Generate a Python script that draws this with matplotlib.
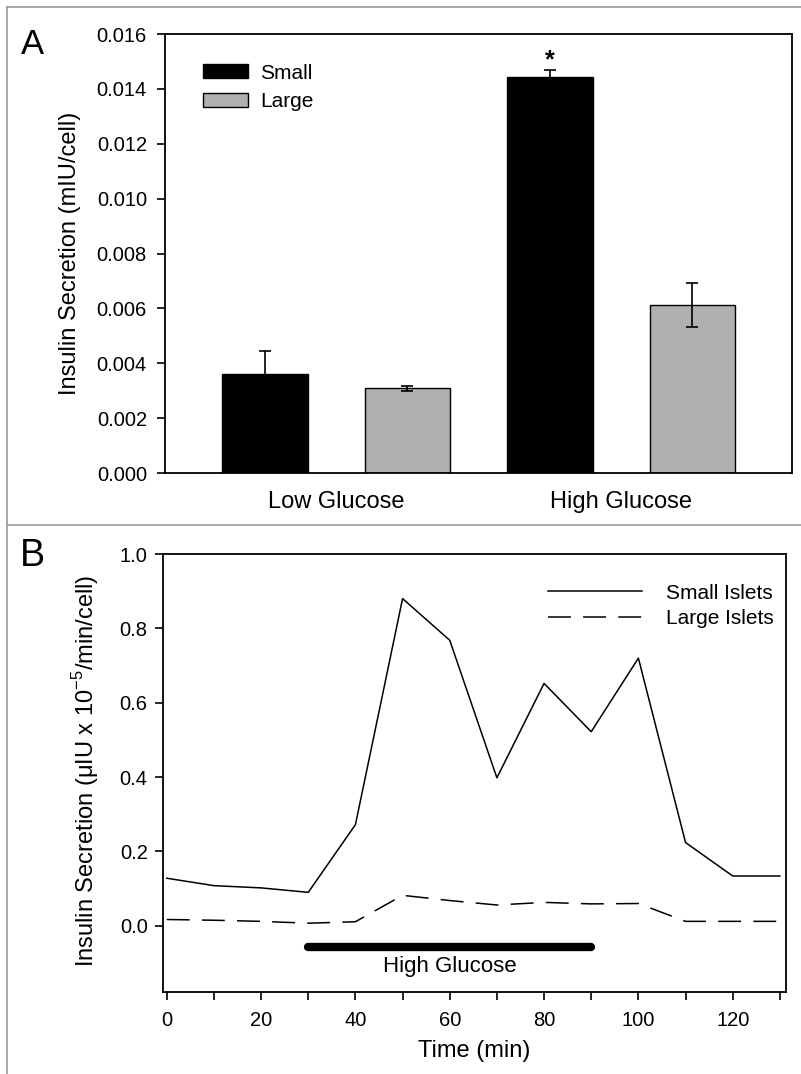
import numpy as np
import matplotlib.pyplot as plt
from matplotlib.lines import Line2D
from matplotlib.patches import Patch

# ---------------- data ----------------
groups = ["Low Glucose", "High Glucose"]
small_mean = [0.00362, 0.01443]
small_err = [0.00082, 0.00026]
large_mean = [0.00308, 0.00612]
large_err = [0.00010, 0.00079]

time_min = [0, 10, 20, 30, 40, 50, 60, 70, 80, 90, 100, 110, 120, 130]
small_islets = [0.128, 0.108, 0.102, 0.090, 0.272, 0.880, 0.768, 0.398,
                0.652, 0.522, 0.720, 0.224, 0.134, 0.134]
large_islets = [0.017, 0.015, 0.012, 0.007, 0.011, 0.082, 0.068, 0.056,
                0.063, 0.059, 0.060, 0.012, 0.012, 0.012]
glucose_window = [30, 90]

plt.rcParams.update({"font.family": "Liberation Sans", "font.size": 14.5})
LABEL_FS = 17

fig = plt.figure(figsize=(8.01, 10.74), dpi=100)

# panel frames (grey lines)
fig.add_artist(Line2D([7 / 801, 7 / 801], [0, 1 - 7 / 1074], color="0.6", lw=1.2))
fig.add_artist(Line2D([7 / 801, 1], [1 - 7 / 1074, 1 - 7 / 1074], color="0.6", lw=1.2))
fig.add_artist(Line2D([7 / 801, 1], [1 - 525 / 1074, 1 - 525 / 1074], color="0.6", lw=1.2))

# ---------------- panel A ----------------
axA = fig.add_axes([165 / 801, 1 - 473 / 1074, 627 / 801, 439 / 1074])
x = np.arange(len(groups))
w = 0.3
ekw = dict(ecolor="black", elinewidth=1.2, capthick=1.2)
axA.bar(x - 0.25, small_mean, w, color="black", edgecolor="black", lw=1,
        yerr=small_err, capsize=4.3, error_kw=ekw)
axA.bar(x + 0.25, large_mean, w, color="#b0b0b0", edgecolor="black", lw=1,
        yerr=large_err, capsize=4.3, error_kw=ekw)
axA.text(1 - 0.25, 0.01505, "*", ha="center", va="center", fontsize=18, fontweight="bold")

axA.set_xlim(-0.6, 1.6)
axA.set_ylim(0, 0.016)
yt = np.arange(0, 0.0161, 0.002)
axA.set_yticks(yt)
axA.set_yticklabels([f"{v:.3f}" for v in yt])
axA.set_xticks(x)
axA.set_xticklabels(groups, fontsize=LABEL_FS)
axA.tick_params(axis="x", length=0, pad=13)
axA.tick_params(axis="y", direction="out", length=6, width=1.2, pad=7)
for s in axA.spines.values():
    s.set_linewidth(1.3)
axA.set_ylabel("Insulin Secretion (mIU/cell)", fontsize=LABEL_FS)
axA.yaxis.set_label_coords(-0.134, 0.5)
axA.legend(handles=[Patch(facecolor="black", edgecolor="black", label="Small"),
                    Patch(facecolor="#b0b0b0", edgecolor="black", label="Large")],
           loc="upper left", bbox_to_anchor=(0.03, 0.975), frameon=False, fontsize=15,
           handlelength=2.2, handleheight=0.65, handletextpad=0.55, labelspacing=0.45)
fig.text(21 / 801, 1 - 44 / 1074, "A", fontsize=25, va="center")

# ---------------- panel B ----------------
axB = fig.add_axes([163 / 801, 1 - 992 / 1074, 623 / 801, 438 / 1074])
axB.plot(time_min, small_islets, color="black", lw=1.1, label="Small Islets")
axB.plot(time_min, large_islets, color="black", lw=1.1, dashes=(15, 8), label="Large Islets")
axB.plot(glucose_window, [-0.056, -0.056], color="black", lw=6, solid_capstyle="round")
axB.text(np.mean(glucose_window), -0.11, "High Glucose", ha="center", va="center", fontsize=16)

axB.set_xlim(-0.8, 131.3)
axB.set_ylim(-0.178, 1.0)
ytb = np.arange(0, 1.01, 0.2)
axB.set_yticks(ytb)
axB.set_yticklabels([f"{v:.1f}" for v in ytb])
axB.set_xticks(np.arange(0, 131, 20))
axB.set_xticks(np.arange(0, 131, 10), minor=True)
axB.tick_params(which="both", direction="out", length=6, width=1.2, pad=8)
axB.tick_params(axis="y", pad=5)
for s in axB.spines.values():
    s.set_linewidth(1.3)
axB.set_xlabel("Time (min)", fontsize=LABEL_FS)
axB.xaxis.set_label_coords(0.5, -0.11)
axB.set_ylabel(r"Insulin Secretion ($\mathregular{\mu}$IU x 10$^{\mathregular{-5}}$/min/cell)",
               fontsize=LABEL_FS)
axB.yaxis.set_label_coords(-0.100, 0.505)
axB.legend(loc="upper right", bbox_to_anchor=(1.01, 0.975), frameon=False, fontsize=15,
           handlelength=4.5, handletextpad=1.15, labelspacing=0.3)
fig.text(20 / 801, 1 - 556 / 1074, "B", fontsize=27, va="center")

fig.savefig("out.png", dpi=100)
